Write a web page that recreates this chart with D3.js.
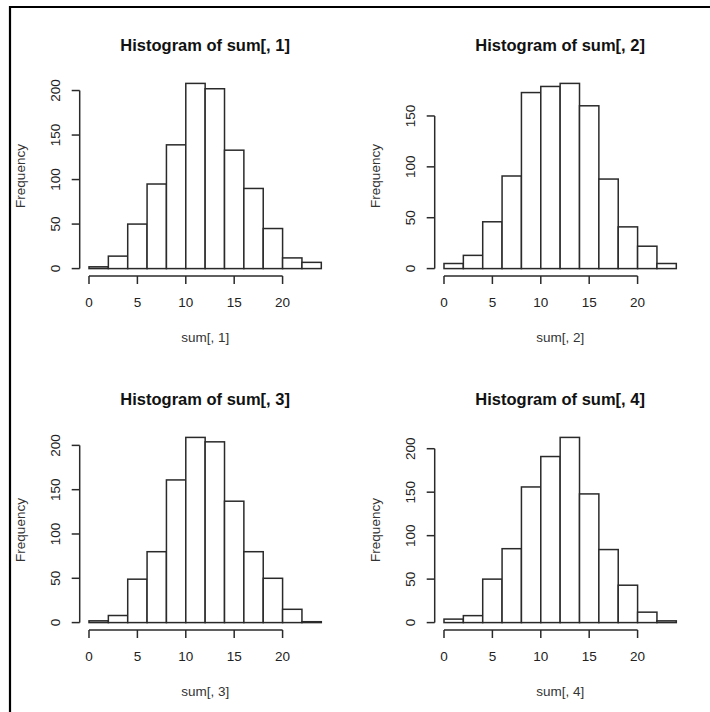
<!DOCTYPE html>
<html>
  <head>
    <script src="https://d3js.org/d3.v7.min.js" charset="utf-8"></script>
    <meta charset="UTF-8">
    <title>Histograms of sum</title>
    <style>
      body { margin: 0; background: #fff; }
      text { font-family: "Liberation Sans", Arial, sans-serif; fill: #222; }
      .title { font-weight: bold; font-size: 16.5px; fill: #111; }
      .tick { font-size: 13.5px; }
      .lab { font-size: 13.5px; fill: #333; }
      .bar { fill: #fff; stroke: #2a2a2a; stroke-width: 1.5; }
      .axis { fill: none; stroke: #2a2a2a; stroke-width: 1.5; }
    </style>
  </head>
  <body>
    <svg class="chart"></svg>
    <script type="text/javascript">

     var width = 710,
         height = 712;

     // bin edges shared by all four histograms
     var breaks = [0, 2, 4, 6, 8, 10, 12, 14, 16, 18, 20, 22, 24];

     var counts1 = [2, 14, 50, 95, 139, 208, 202, 133, 90, 45, 12, 7];
     var counts2 = [5, 13, 46, 91, 173, 179, 182, 160, 88, 41, 22, 5];
     var counts3 = [2, 8, 49, 80, 161, 209, 204, 137, 80, 50, 15, 1];
     var counts4 = [4, 8, 50, 85, 156, 191, 213, 148, 84, 43, 12, 2];

     var titles = ["Histogram of sum[, 1]", "Histogram of sum[, 2]",
                   "Histogram of sum[, 3]", "Histogram of sum[, 4]"];
     var xLabels = ["sum[, 1]", "sum[, 2]", "sum[, 3]", "sum[, 4]"];
     var yLabel = "Frequency";
     var xTicks = [0, 5, 10, 15, 20];

     var panels = [counts1, counts2, counts3, counts4];

     // plot region inside each cell (names avoid window.top etc.)
     var cellW = 355, cellH = 354;
     var plotL = 79.7, plotR = 330.6, plotT = 76, plotB = 276;

     var chart = d3.select(".chart")
                   .attr("width", width)
                   .attr("height", height);

     // frame from the screenshot
     chart.append("line").attr("x1", 10).attr("y1", 7).attr("x2", width).attr("y2", 7)
          .attr("stroke", "#000").attr("stroke-width", 2.2);
     chart.append("line").attr("x1", 10).attr("y1", 6).attr("x2", 10).attr("y2", height)
          .attr("stroke", "#000").attr("stroke-width", 2.2);

     panels.forEach(function(counts, i) {
         var g = chart.append("g")
                      .attr("transform", "translate(" + (i % 2) * cellW + "," + Math.floor(i / 2) * cellH + ")");

         var bins = counts.map(function(c, j) { return {x0: breaks[j], x1: breaks[j + 1], n: c}; });

         var lo = breaks[0], hi = breaks[breaks.length - 1];
         var x = d3.scaleLinear()
                   .domain([lo - 0.04 * (hi - lo), hi + 0.04 * (hi - lo)])
                   .range([plotL, plotR]);
         var maxN = d3.max(counts);
         var y = d3.scaleLinear()
                   .domain([-0.04 * maxN, 1.04 * maxN])
                   .range([plotB, plotT]);

         var yTicks = d3.range(0, y.domain()[1] + 1e-9, 50);

         g.append("g").selectAll("rect")
          .data(bins)
          .enter().append("rect")
          .attr("class", "bar")
          .attr("x", function(d) { return x(d.x0); })
          .attr("width", function(d) { return x(d.x1) - x(d.x0); })
          .attr("y", function(d) { return y(d.n); })
          .attr("height", function(d) { return y(0) - y(d.n); });

         // x axis
         var xa = g.append("g");
         xa.append("line").attr("class", "axis")
           .attr("x1", x(xTicks[0])).attr("x2", x(xTicks[xTicks.length - 1]))
           .attr("y1", plotB).attr("y2", plotB);
         xa.selectAll("line.t").data(xTicks).enter().append("line")
           .attr("class", "axis t")
           .attr("x1", function(d) { return x(d); }).attr("x2", function(d) { return x(d); })
           .attr("y1", plotB).attr("y2", plotB + 8);
         xa.selectAll("text").data(xTicks).enter().append("text")
           .attr("class", "tick")
           .attr("text-anchor", "middle")
           .attr("x", function(d) { return x(d); })
           .attr("y", plotB + 31)
           .text(function(d) { return d; });

         // y axis
         var ya = g.append("g");
         ya.append("line").attr("class", "axis")
           .attr("x1", plotL).attr("x2", plotL)
           .attr("y1", y(yTicks[0])).attr("y2", y(yTicks[yTicks.length - 1]));
         ya.selectAll("line.t").data(yTicks).enter().append("line")
           .attr("class", "axis t")
           .attr("x1", plotL).attr("x2", plotL - 8)
           .attr("y1", function(d) { return y(d); }).attr("y2", function(d) { return y(d); });
         ya.selectAll("text").data(yTicks).enter().append("text")
           .attr("class", "tick")
           .attr("text-anchor", "middle")
           .attr("transform", function(d) { return "translate(" + (plotL - 19.5) + "," + y(d) + ") rotate(-90)"; })
           .text(function(d) { return d; });

         // titles and labels
         g.append("text").attr("class", "title")
          .attr("text-anchor", "middle")
          .attr("x", (plotL + plotR) / 2).attr("y", 51)
          .text(titles[i]);
         g.append("text").attr("class", "lab")
          .attr("text-anchor", "middle")
          .attr("x", (plotL + plotR) / 2).attr("y", plotB + 66)
          .text(xLabels[i]);
         g.append("text").attr("class", "lab")
          .attr("text-anchor", "middle")
          .attr("transform", "translate(" + (plotL - 54.5) + "," + (plotT + plotB) / 2 + ") rotate(-90)")
          .text(yLabel);
     });

    </script>
  </body>
</html>
